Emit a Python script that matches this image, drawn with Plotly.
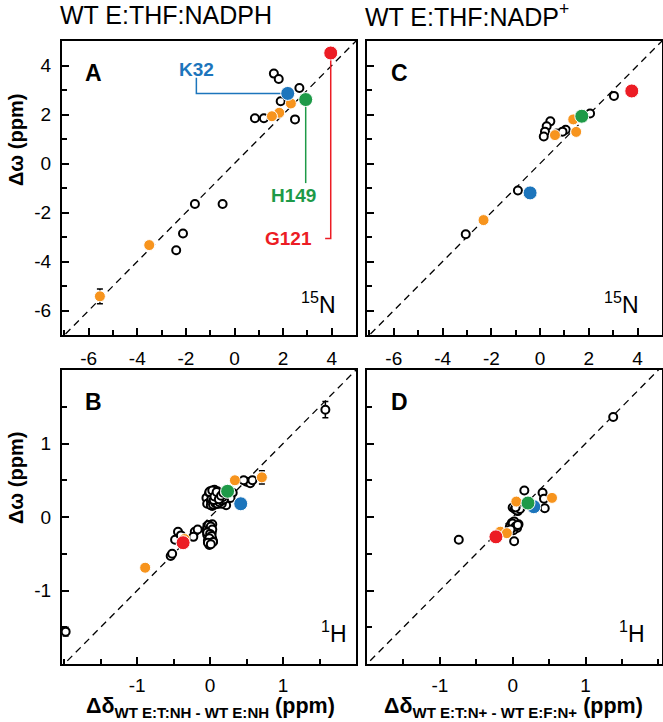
import plotly.graph_objects as go

# ---------------- data ----------------
# Panel A (15N, E:THF:NADPH)
A_open_x = [1.62, 1.82, 2.67, 1.90, 0.84, 1.21, 2.49, -1.63, -0.49, -2.12, -2.40]
A_open_y = [3.67, 3.45, 3.08, 2.54, 1.85, 1.85, 1.80, -1.65, -1.65, -2.86, -3.54]
A_orange_x = [2.32, 1.84, 1.54, -3.51, -5.54]
A_orange_y = [2.45, 2.07, 1.93, -3.33, -5.42]
A_orange_err = [0, 0, 0, 0, 0.3]
A_K32 = (2.19, 2.86)
A_H149 = (2.93, 2.61)
A_G121 = (3.96, 4.51)

# Panel C (15N, E:THF:NADP+)
C_open_x = [3.03, 2.05, 0.42, 0.27, 0.20, 0.15, 0.68, 1.05, 0.92, -0.91, -3.05]
C_open_y = [2.76, 2.04, 1.72, 1.52, 1.30, 1.10, 1.22, 1.38, 1.30, -1.10, -2.89]
C_orange_x = [1.36, 1.48, 0.61, -2.32]
C_orange_y = [1.80, 1.29, 1.16, -2.31]
C_K32 = (-0.41, -1.20)
C_H149 = (1.71, 1.93)
C_G121 = (3.76, 2.96)

# Panel B (1H, E:THF:NADPH)
B_open_x = [1.58, -1.98, 0.50, 0.55, 0.58, 0.46,
            -0.02, 0.00, 0.02, 0.05, 0.08, 0.10, 0.12, 0.15, 0.18, 0.00, 0.03, 0.07,
            0.20, 0.17, -0.03, 0.10, 0.22, 0.31, 0.28, 0.06, -0.05, 0.13,
            -0.04, 0.04, 0.09, 0.14, 0.01, 0.06, 0.11, -0.01, 0.16,
            0.01, 0.04, 0.07, 0.10, 0.13, 0.16, 0.19, 0.02, 0.05, 0.08, 0.11, 0.14,
            0.17, -0.01, 0.03, 0.06, 0.09, 0.12, 0.15, 0.18,
            -0.03, 0.00, 0.02, -0.02, 0.01, -0.03, 0.00, 0.03, -0.05, 0.03, -0.01,
            -0.04, 0.02, -0.02, 0.04, 0.00, -0.04,
            -0.02, 0.01, 0.03, -0.04, 0.00, 0.02, -0.01, 0.04, -0.03, 0.01,
            -0.21, -0.17, -0.23, -0.44, -0.48, -0.40, -0.54, -0.52]
B_open_y = [1.46, -1.56, 0.48, 0.46, 0.50, 0.50,
            0.30, 0.25, 0.20, 0.32, 0.27, 0.22, 0.18, 0.24, 0.20, 0.35, 0.15, 0.17,
            0.28, 0.32, 0.22, 0.35, 0.16, 0.33, 0.26, 0.37, 0.26, 0.29,
            0.18, 0.28, 0.30, 0.26, 0.22, 0.21, 0.29, 0.33, 0.18,
            0.16, 0.17, 0.19, 0.18, 0.20, 0.22, 0.24, 0.25, 0.23, 0.30, 0.28, 0.31,
            0.27, 0.34, 0.36, 0.28, 0.34, 0.24, 0.29, 0.33,
            -0.12, -0.15, -0.20, -0.24, -0.28, -0.32, -0.36, -0.10, -0.18, -0.30, -0.38,
            -0.14, -0.22, -0.27, -0.33, -0.31, -0.24,
            -0.11, -0.13, -0.17, -0.21, -0.23, -0.26, -0.29, -0.34, -0.35, -0.37,
            -0.20, -0.17, -0.27, -0.20, -0.31, -0.25, -0.53, -0.50]
B_open_err = [0.11, 0.06] + [0] * (len(B_open_x) - 2)
B_orange_x = [0.71, 0.34, -0.35, -0.89]
B_orange_y = [0.54, 0.50, -0.30, -0.69]
B_orange_err = [0.09, 0, 0, 0]
B_K32 = (0.42, 0.18)
B_H149 = (0.24, 0.35)
B_G121 = (-0.37, -0.35)

# Panel D (1H, E:THF:NADP+)
D_open_x = [1.38, 0.41, 0.43, 0.44, 0.16, 0.02, -0.74,
            0.09, 0.05, 0.00, 0.12, 0.07, 0.03, 0.06, 0.10, 0.04,
            -0.01, 0.03, 0.06, 0.08, -0.04, 0.01, 0.05, 0.02, -0.02,
            0.00, 0.04, 0.07, -0.03]
D_open_y = [1.36, 0.33, 0.25, 0.12, 0.36, -0.33, -0.31,
            0.12, 0.10, 0.13, 0.14, 0.08, 0.11, 0.09, 0.11, 0.13,
            -0.08, -0.12, -0.15, -0.10, -0.14, -0.18, -0.12, -0.06, -0.16,
            -0.09, -0.13, -0.11, -0.17]
D_orange_x = [0.54, 0.05, -0.17, -0.08]
D_orange_y = [0.26, 0.21, -0.20, -0.22]
D_K32 = (0.29, 0.14)
D_H149 = (0.21, 0.19)
D_G121 = (-0.23, -0.27)

# tick labels
N_tickvals = [-6, -4, -2, 0, 2, 4]
N_ticktext = ["-6", "-4", "-2", "0", "2", "4"]
H_tickvals = [-1, 0, 1]
H_ticktext = ["-1", "0", "1"]

# ---------------- style ----------------
FONT = "Liberation Sans, Arial, sans-serif"
ORANGE = "#F7941D"
BLUE = "#1C75BC"
GREEN = "#1E9A48"
RED = "#EC1C24"
W, H = 663, 722


def px_dom(a, b, total):
    return [a / total, b / total]


def ydom(top, bottom):
    return [1 - bottom / H, 1 - top / H]


fig = go.Figure()

panels = [
    dict(xa="x", ya="y", open=(A_open_x, A_open_y, None), orange=(A_orange_x, A_orange_y, A_orange_err),
         K=A_K32, Hh=A_H149, G=A_G121, diag=(-8, 6)),
    dict(xa="x2", ya="y2", open=(C_open_x, C_open_y, None), orange=(C_orange_x, C_orange_y, None),
         K=C_K32, Hh=C_H149, G=C_G121, diag=(-8, 6)),
    dict(xa="x3", ya="y3", open=(B_open_x, B_open_y, B_open_err), orange=(B_orange_x, B_orange_y, B_orange_err),
         K=B_K32, Hh=B_H149, G=B_G121, diag=(-3, 3)),
    dict(xa="x4", ya="y4", open=(D_open_x, D_open_y, None), orange=(D_orange_x, D_orange_y, None),
         K=D_K32, Hh=D_H149, G=D_G121, diag=(-3, 3)),
]


def err(e):
    if e is None:
        return None
    return dict(type="data", array=e, visible=True, color="black", thickness=1.5, width=3)


for p in panels:
    d0, d1 = p["diag"]
    fig.add_trace(go.Scatter(x=[d0, d1], y=[d0, d1], mode="lines",
                             line=dict(color="black", width=1.3, dash="7px,5px"),
                             xaxis=p["xa"], yaxis=p["ya"], hoverinfo="skip"))
    ox, oy, oe = p["open"]
    fig.add_trace(go.Scatter(x=ox, y=oy, mode="markers",
                             marker=dict(size=8, color="white", line=dict(color="black", width=2)),
                             error_y=err(oe), xaxis=p["xa"], yaxis=p["ya"]))

# leader lines for panel A labels (drawn under markers)
kx, ky = A_K32
fig.add_trace(go.Scatter(x=[-1.57, -1.57, kx], y=[3.5, ky, ky], mode="lines",
                         line=dict(color=BLUE, width=1.5), xaxis="x", yaxis="y"))
hx, hy = A_H149
fig.add_trace(go.Scatter(x=[hx, hx], y=[hy, -0.8], mode="lines",
                         line=dict(color=GREEN, width=1.5), xaxis="x", yaxis="y"))
gx, gy = A_G121
fig.add_trace(go.Scatter(x=[gx, gx, 3.73], y=[gy, -3.06, -3.06], mode="lines",
                         line=dict(color=RED, width=1.5), xaxis="x", yaxis="y"))

for p in panels:
    rx, ry, re = p["orange"]
    fig.add_trace(go.Scatter(x=rx, y=ry, mode="markers",
                             marker=dict(size=11, color=ORANGE, line=dict(color="white", width=1)),
                             error_y=err(re), xaxis=p["xa"], yaxis=p["ya"]))
    for (pt, col) in [(p["G"], RED), (p["K"], BLUE), (p["Hh"], GREEN)]:
        fig.add_trace(go.Scatter(x=[pt[0]], y=[pt[1]], mode="markers",
                                 marker=dict(size=14, color=col, line=dict(color="white", width=1)),
                                 xaxis=p["xa"], yaxis=p["ya"]))


def axis_common(rng, dom, tickvals, ticktext, minor_dtick, anchor, labels=True, standoff=5):
    return dict(range=list(rng), domain=dom, anchor=anchor,
                showline=True, mirror=True, linewidth=2, linecolor="black",
                ticks="inside", ticklen=7, tickwidth=1.5, tickcolor="black",
                tickvals=tickvals, ticktext=ticktext, showticklabels=labels,
                minor=dict(dtick=minor_dtick, tick0=0, ticks="inside", ticklen=5,
                           tickwidth=1.5, tickcolor="black", showgrid=False),
                showgrid=False, zeroline=False,
                tickfont=dict(family=FONT, size=19, color="black"),
                ticklabelstandoff=standoff, fixedrange=True)


xA = px_dom(62, 356, W)
xC = px_dom(367, 662, W)
yTop = ydom(41, 335)
yBot = ydom(370, 664)

fig.update_layout(
    width=W, height=H, margin=dict(l=0, r=0, t=0, b=0),
    paper_bgcolor="white", plot_bgcolor="white", showlegend=False,
    xaxis=axis_common((-7.1, 5), xA, N_tickvals, N_ticktext, 1, "y"),
    yaxis=axis_common((-7, 5), yTop, N_tickvals, N_ticktext, 1, "x"),
    xaxis2=axis_common((-7.1, 5), xC, N_tickvals, N_ticktext, 1, "y2"),
    yaxis2=axis_common((-7, 5), yTop, N_tickvals, N_ticktext, 1, "x2", labels=False),
    xaxis3=axis_common((-2.03, 2), xA, H_tickvals, H_ticktext, 0.5, "y3", standoff=3),
    yaxis3=axis_common((-2, 2), yBot, H_tickvals, H_ticktext, 0.5, "x3"),
    xaxis4=axis_common((-2, 2.05), xC, H_tickvals, H_ticktext, 0.5, "y4", standoff=3),
    yaxis4=axis_common((-2, 2), yBot, H_tickvals, H_ticktext, 0.5, "x4", labels=False),
)

ann = []
# column titles
ann.append(dict(text="WT E:THF:NADPH", x=58 / W, y=1 - 15 / H, xref="paper", yref="paper",
                xanchor="left", yanchor="middle", showarrow=False,
                font=dict(family=FONT, size=25, color="black")))
ann.append(dict(text="WT E:THF:NADP<sup>+</sup>", x=363 / W, y=1 - 15 / H, xref="paper", yref="paper",
                xanchor="left", yanchor="middle", showarrow=False,
                font=dict(family=FONT, size=25, color="black")))
# panel letters and nuclei
for letter, xa, ya, nuc, nx in [("A", "x", "y", "<sup>15</sup>N", 0.94),
                                ("C", "x2", "y2", "<sup>15</sup>N", 0.93),
                                ("B", "x3", "y3", "<sup>1</sup>H", 0.977),
                                ("D", "x4", "y4", "<sup>1</sup>H", 0.95)]:
    ann.append(dict(text="<b>%s</b>" % letter, x=0.073, y=0.892, xref=xa + " domain", yref=ya + " domain",
                    xanchor="left", yanchor="middle", showarrow=False,
                    font=dict(family=FONT, size=23, color="black")))
    ann.append(dict(text=nuc, x=nx, y=0.11, xref=xa + " domain", yref=ya + " domain",
                    xanchor="right", yanchor="middle", showarrow=False,
                    font=dict(family=FONT, size=23, color="black")))
# residue labels
for txt, col, lx, ly in [("K32", BLUE, -1.57, 3.85), ("H149", GREEN, 2.43, -1.29), ("G121", RED, 2.23, -3.06)]:
    ann.append(dict(text="<b>%s</b>" % txt, x=lx, y=ly, xref="x", yref="y",
                    xanchor="center", yanchor="middle", showarrow=False,
                    font=dict(family=FONT, size=19, color=col)))
# axis titles
for yc in [140, 478]:
    ann.append(dict(text="<b>Δω (ppm)</b>", x=16 / W, y=1 - yc / H, xref="paper", yref="paper",
                    xanchor="center", yanchor="middle", textangle=-90, showarrow=False,
                    font=dict(family=FONT, size=20, color="black")))
for xc, txt in [(210, "<b>Δδ<sub>WT E:T:NH - WT E:NH</sub> (ppm)</b>"),
                (513, "<b>Δδ<sub>WT E:T:N+ - WT E:F:N+</sub> (ppm)</b>")]:
    ann.append(dict(text=txt, x=xc / W, y=0, xref="paper", yref="paper",
                    xanchor="center", yanchor="bottom", showarrow=False, borderpad=0,
                    font=dict(family=FONT, size=21.5, color="black")))
fig.update_layout(annotations=ann)

fig.write_html("out.html", config={"displayModeBar": False},
               post_script="document.body.style.margin='0';document.body.style.overflow='hidden';")
